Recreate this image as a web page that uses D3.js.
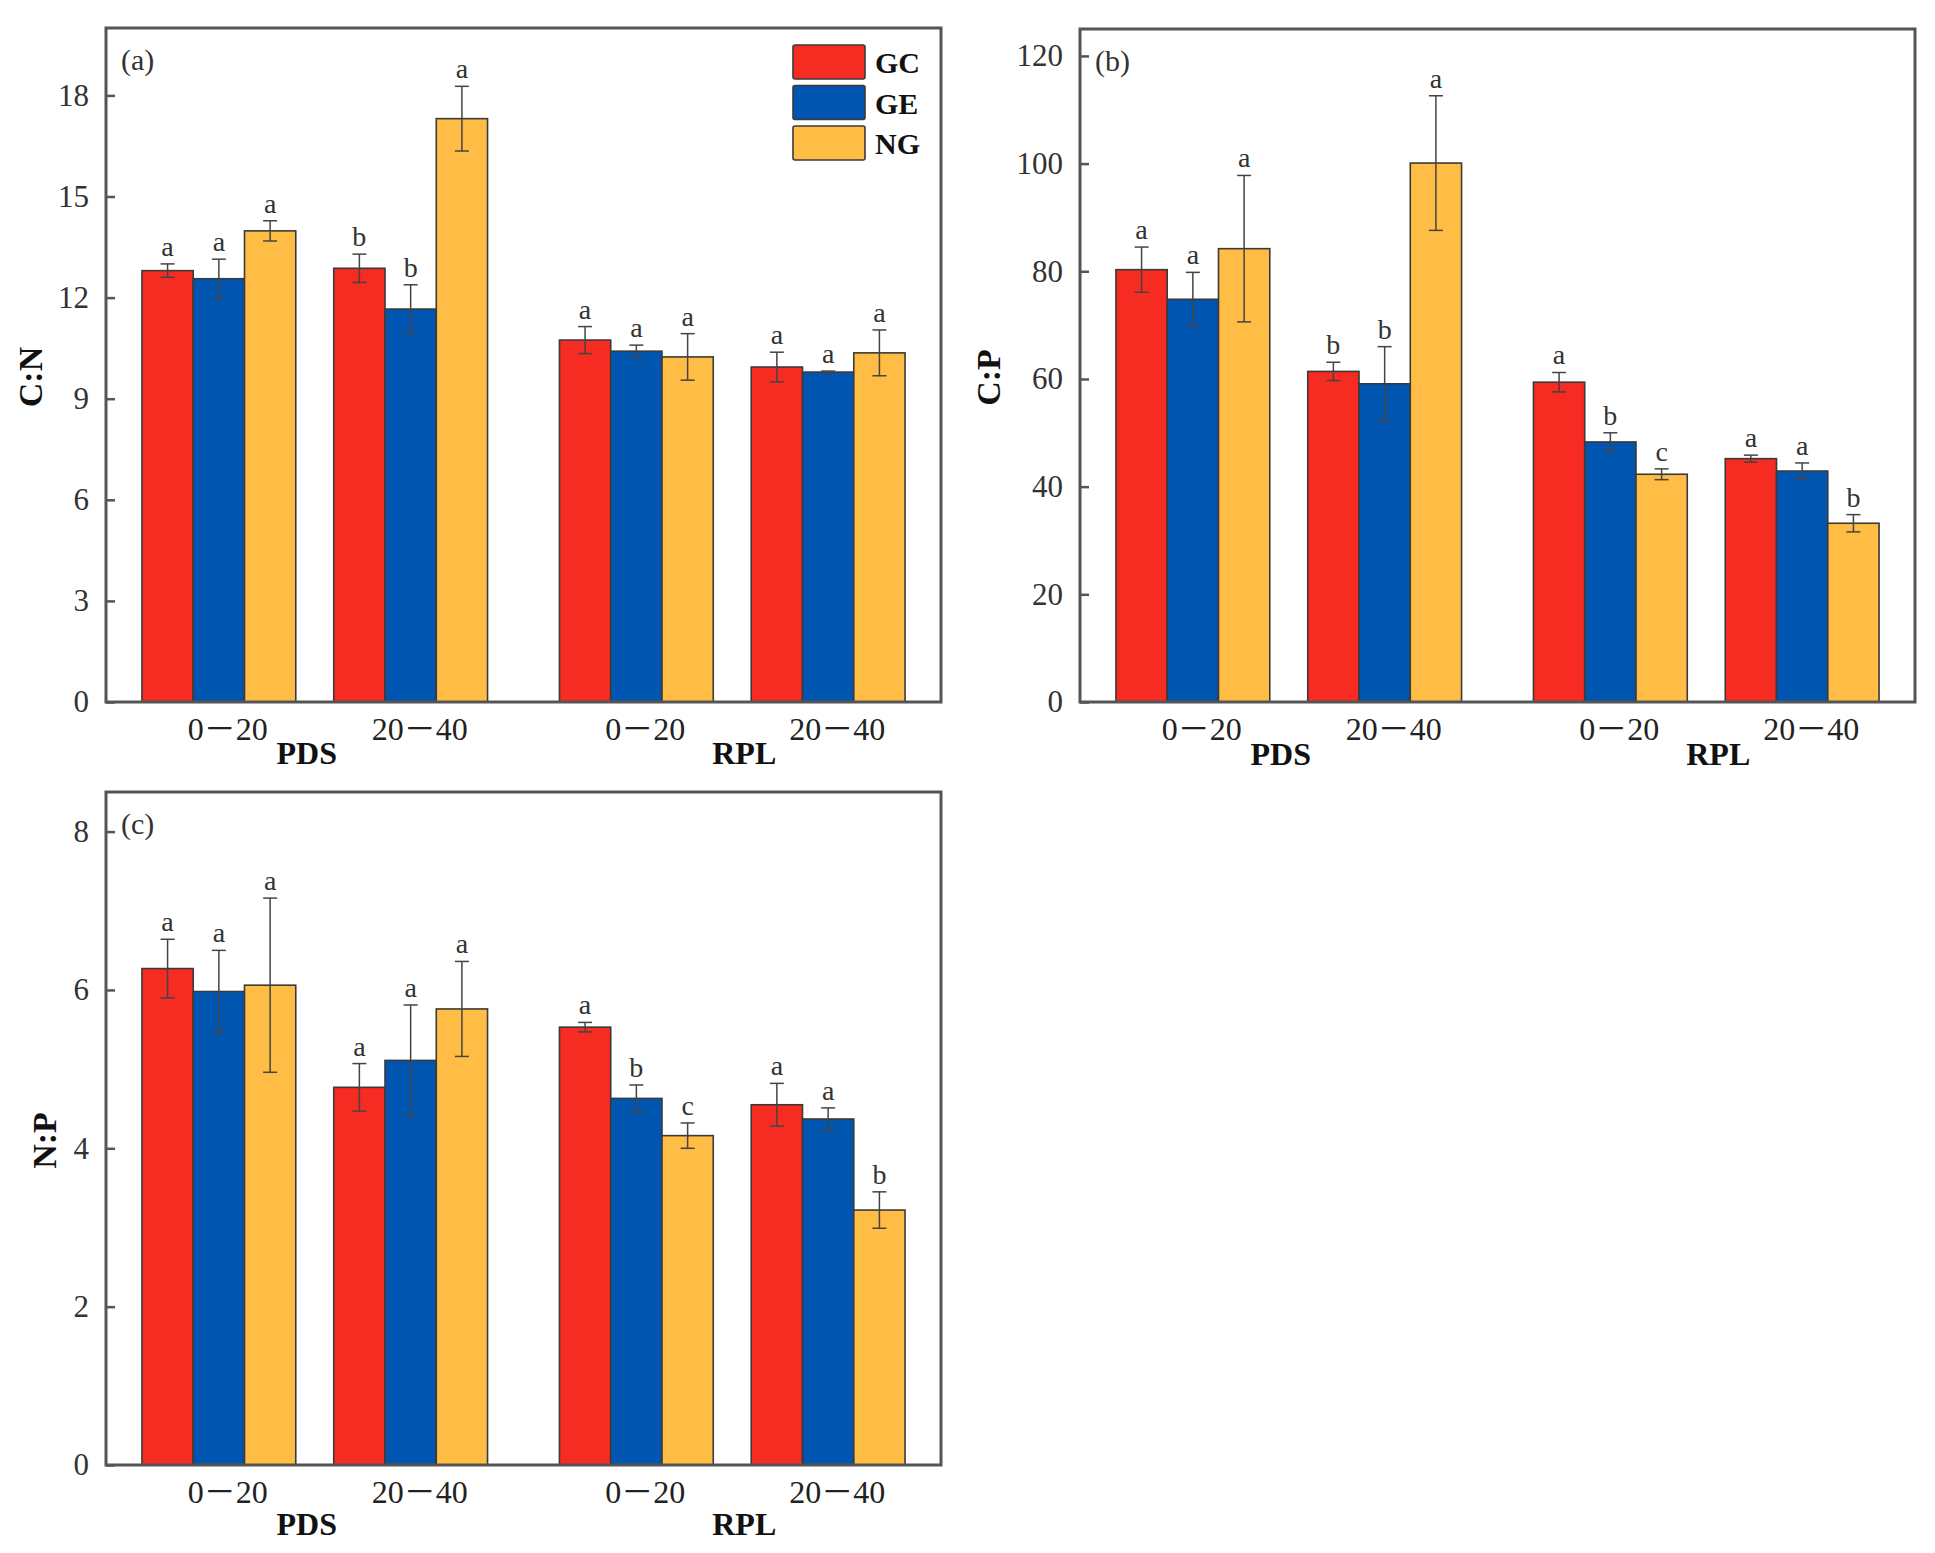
<!DOCTYPE html>
<html><head><meta charset="utf-8">
<script src="https://cdn.jsdelivr.net/npm/d3@7"></script>
<style>
body{margin:0;background:#fff}
text{font-family:"Liberation Serif","Noto Sans CJK SC","Times New Roman",serif}
</style>
</head><body>
<svg id="chart" width="1935" height="1553"></svg>
<script>
// ---------- data ----------
const sites = ["PDS", "RPL"];
const depths = ["0－20", "20－40"];
const series = ["GC", "GE", "NG"];
const seriesColors = ["#F62B22", "#0055B1", "#FFBD45"];

// groups order: PDS 0－20, PDS 20－40, RPL 0－20, RPL 20－40 ; rows = GC, GE, NG
const cnMeans = [[12.80, 12.87, 10.74, 9.94], [12.56, 11.66, 10.41, 9.79], [13.98, 17.31, 10.24, 10.36]];
const cnErrs  = [[0.20, 0.42, 0.40, 0.44], [0.58, 0.72, 0.18, 0.03], [0.30, 0.96, 0.69, 0.68]];
const cnLetters = [["a","b","a","a"], ["a","b","a","a"], ["a","a","a","a"]];
const cnTicks = [0, 3, 6, 9, 12, 15, 18];

const cpMeans = [[80.3, 61.4, 59.4, 45.2], [74.8, 59.1, 48.3, 42.9], [84.2, 100.1, 42.3, 33.2]];
const cpErrs  = [[4.2, 1.7, 1.8, 0.65], [5.0, 6.9, 1.7, 1.5], [13.6, 12.5, 1.0, 1.6]];
const cpLetters = [["a","b","a","a"], ["a","b","b","a"], ["a","a","c","b"]];
const cpTicks = [0, 20, 40, 60, 80, 100, 120];

const npMeans = [[6.27, 4.77, 5.53, 4.55], [5.98, 5.11, 4.63, 4.37], [6.06, 5.76, 4.16, 3.22]];
const npErrs  = [[0.37, 0.30, 0.06, 0.27], [0.52, 0.70, 0.17, 0.14], [1.10, 0.60, 0.16, 0.23]];
const npLetters = [["a","a","a","a"], ["a","a","b","a"], ["a","a","c","b"]];
const npTicks = [0, 2, 4, 6, 8];

// ---------- drawing ----------
const svg = d3.select("#chart");
svg.append("rect").attr("width", 1935).attr("height", 1553).attr("fill", "#fff");

function panel(cfg) {
  const g = svg.append("g");
  const y = d3.scaleLinear().domain([0, cfg.yMax]).range([cfg.yZero, cfg.yTop]);
  const xSite = d3.scaleBand().domain(sites).range([cfg.x0, cfg.x1])
    .paddingInner(0.1722).paddingOuter(0.0861);
  const xDepth = d3.scaleBand().domain(depths).range([0, xSite.bandwidth()])
    .paddingInner(0.198).paddingOuter(0);
  const xSer = d3.scaleBand().domain(series).range([0, xDepth.bandwidth()]);

  const items = [];
  series.forEach((s, si) => {
    sites.forEach((site, ti) => {
      depths.forEach((dep, di) => {
        const gi = ti * 2 + di;
        items.push({
          s, si, site, dep,
          m: cfg.means[si][gi], e: cfg.errs[si][gi], l: cfg.letters[si][gi],
          x: xSite(site) + xDepth(dep) + xSer(s)
        });
      });
    });
  });

  // bars
  g.selectAll("rect.bar").data(items).join("rect")
    .attr("class", "bar")
    .attr("x", d => d.x)
    .attr("width", xSer.bandwidth())
    .attr("y", d => y(d.m))
    .attr("height", d => y(0) - y(d.m))
    .attr("fill", d => seriesColors[d.si])
    .attr("stroke", "#3a3a3a")
    .attr("stroke-width", 1.6);

  // error bars
  const cap = 7;
  const eb = g.selectAll("g.eb").data(items).join("g").attr("class", "eb")
    .attr("stroke", "#444").attr("stroke-width", 1.5);
  eb.append("line")
    .attr("x1", d => d.x + xSer.bandwidth() / 2).attr("x2", d => d.x + xSer.bandwidth() / 2)
    .attr("y1", d => y(d.m - d.e)).attr("y2", d => y(d.m + d.e));
  eb.append("line")
    .attr("x1", d => d.x + xSer.bandwidth() / 2 - cap).attr("x2", d => d.x + xSer.bandwidth() / 2 + cap)
    .attr("y1", d => y(d.m + d.e)).attr("y2", d => y(d.m + d.e));
  eb.append("line")
    .attr("x1", d => d.x + xSer.bandwidth() / 2 - cap).attr("x2", d => d.x + xSer.bandwidth() / 2 + cap)
    .attr("y1", d => y(d.m - d.e)).attr("y2", d => y(d.m - d.e));

  // significance letters
  g.selectAll("text.sig").data(items).join("text")
    .attr("class", "sig")
    .attr("x", d => d.x + xSer.bandwidth() / 2)
    .attr("y", d => y(d.m + d.e) - 8)
    .attr("text-anchor", "middle")
    .attr("font-size", 28)
    .attr("fill", "#333")
    .text(d => d.l);

  // y axis
  const ax = g.append("g").attr("transform", `translate(${cfg.x0},0)`)
    .call(d3.axisLeft(y).tickValues(cfg.ticks).tickSizeInner(-9).tickSizeOuter(0).tickPadding(17));
  ax.select(".domain").remove();
  ax.selectAll(".tick line").attr("stroke", "#555").attr("stroke-width", 2.5);
  ax.selectAll(".tick text").attr("font-size", 31).attr("fill", "#333")
    .attr("font-family", '"Liberation Serif","Times New Roman",serif');

  // x labels
  sites.forEach((site, ti) => {
    depths.forEach(dep => {
      g.append("text")
        .attr("x", xSite(site) + xDepth(dep) + xDepth.bandwidth() / 2 + 9)
        .attr("y", cfg.yZero + 38)
        .attr("text-anchor", "middle").attr("font-size", 32).attr("fill", "#222")
        .text(dep);
    });
    g.append("text")
      .attr("x", xSite(site) + xSite.bandwidth() / 2 + (ti === 0 ? -8 : 12))
      .attr("y", cfg.yZero + cfg.siteDy)
      .attr("text-anchor", "middle").attr("font-size", 32).attr("font-weight", "bold").attr("fill", "#111")
      .text(site);
  });

  // frame
  g.append("rect")
    .attr("x", cfg.x0).attr("y", cfg.yTop)
    .attr("width", cfg.x1 - cfg.x0).attr("height", cfg.yZero - cfg.yTop)
    .attr("fill", "none").attr("stroke", "#555").attr("stroke-width", 3);

  // tag
  g.append("text").attr("x", cfg.x0 + 15).attr("y", cfg.yTop + 42)
    .attr("font-size", 30).attr("fill", "#333").text(cfg.tag);

  // y title
  const cy = (cfg.yTop + cfg.yZero) / 2 + 12;
  g.append("text")
    .attr("transform", `translate(${cfg.titleX},${cy}) rotate(-90)`)
    .attr("text-anchor", "middle").attr("dy", "0.35em")
    .attr("font-size", 34).attr("font-weight", "bold").attr("fill", "#111")
    .text(cfg.title);

  if (cfg.legend) {
    series.forEach((s, si) => {
      const by = cfg.yTop + 17 + si * 40.5;
      g.append("rect").attr("x", cfg.x1 - 148).attr("y", by)
        .attr("width", 72).attr("height", 34).attr("rx", 2)
        .attr("fill", seriesColors[si]).attr("stroke", "#3a3a3a").attr("stroke-width", 1.6);
      g.append("text").attr("x", cfg.x1 - 66).attr("y", by + 28)
        .attr("font-size", 30).attr("font-weight", "bold").attr("fill", "#111").text(s);
    });
  }
}

panel({x0: 106, x1: 941, yTop: 28, yZero: 702, yMax: 20, ticks: cnTicks,
  means: cnMeans, errs: cnErrs, letters: cnLetters, title: "C:N", tag: "(a)",
  titleX: 30, siteDy: 62, legend: true});
panel({x0: 1080, x1: 1915, yTop: 29, yZero: 702, yMax: 125, ticks: cpTicks,
  means: cpMeans, errs: cpErrs, letters: cpLetters, title: "C:P", tag: "(b)",
  titleX: 988, siteDy: 63, legend: false});
panel({x0: 106, x1: 941, yTop: 792, yZero: 1465, yMax: 8.5, ticks: npTicks,
  means: npMeans, errs: npErrs, letters: npLetters, title: "N:P", tag: "(c)",
  titleX: 44, siteDy: 70, legend: false});
</script>
</body></html>
